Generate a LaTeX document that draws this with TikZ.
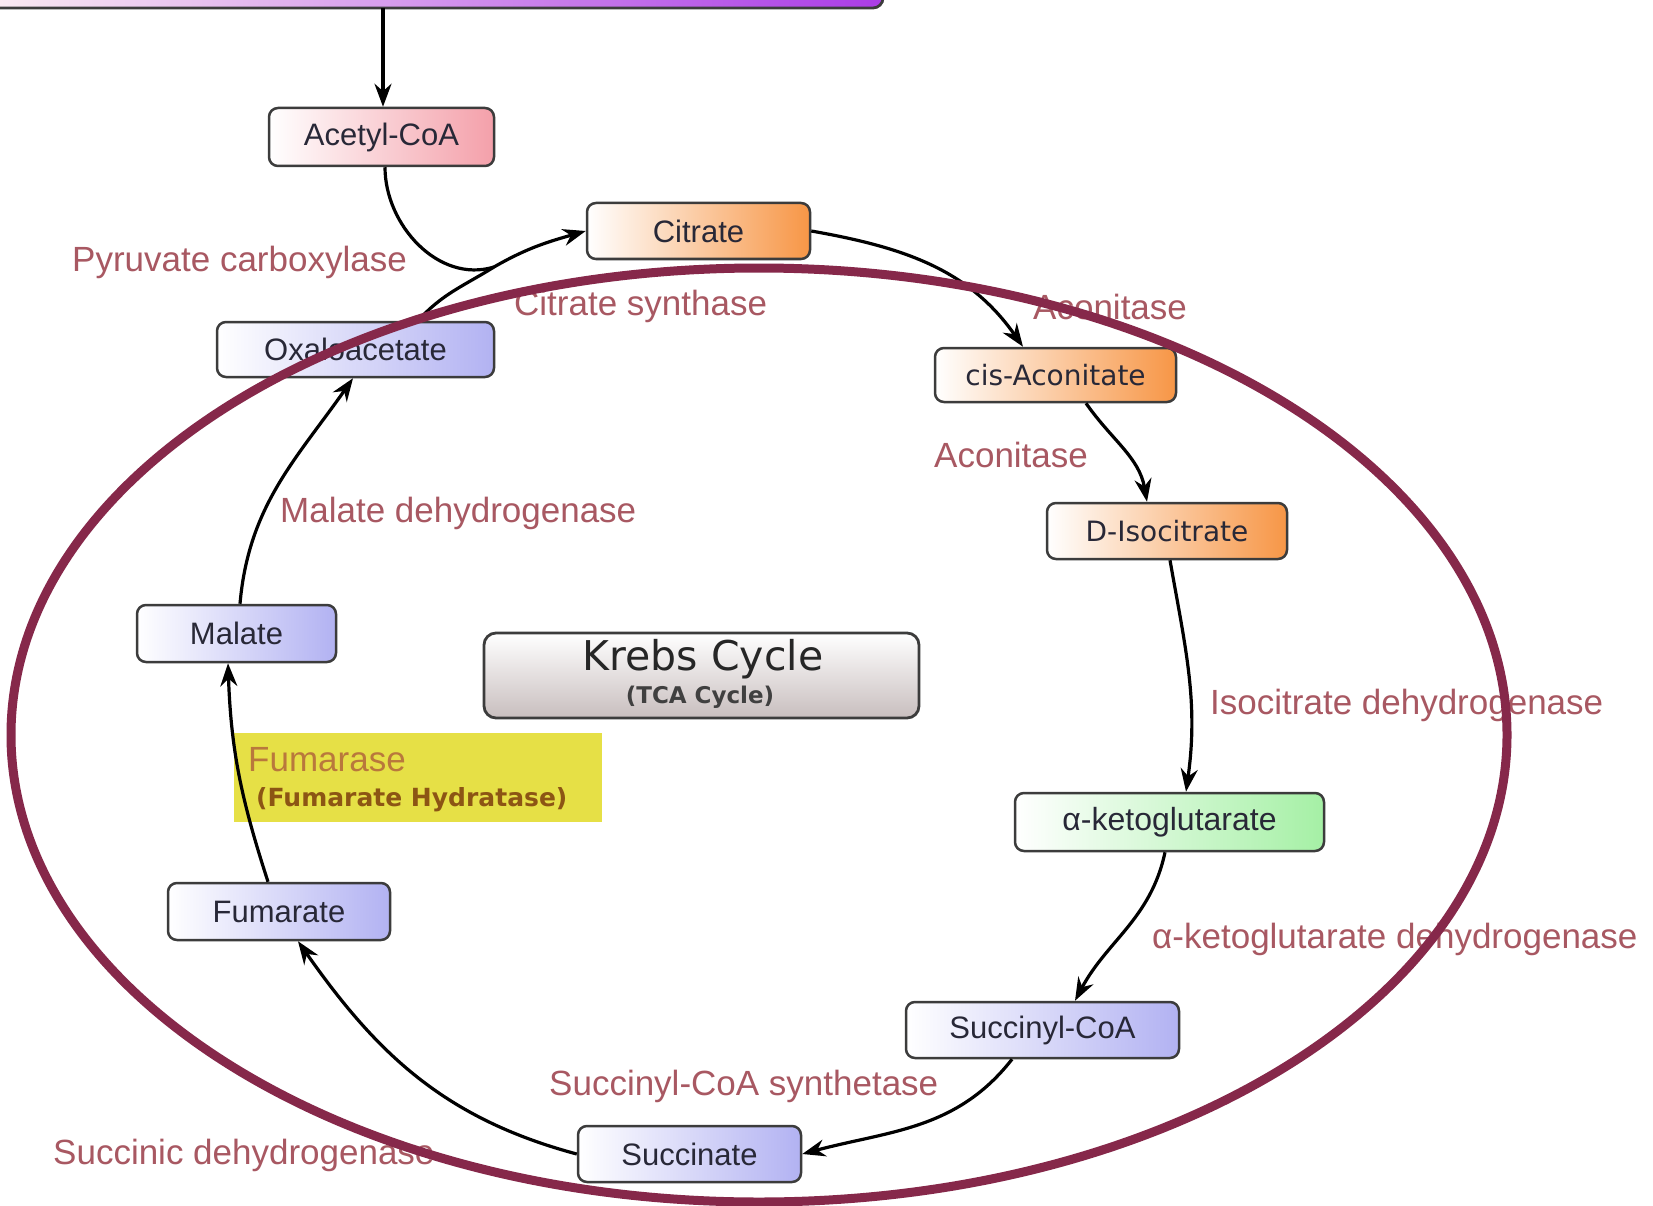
\documentclass[tikz,border=0pt]{standalone}
\usepackage{fontspec}
\setmainfont{Liberation Sans}
\newfontfamily\dv{DejaVu Sans}
\usetikzlibrary{arrows.meta}
\definecolor{enz}{RGB}{168,88,98}
\definecolor{ring}{RGB}{134,40,74}
\definecolor{nodeborder}{RGB}{60,60,60}
\definecolor{ntext}{RGB}{40,40,55}
\definecolor{pinkc}{RGB}{244,160,170}
\definecolor{orangec}{RGB}{247,150,70}
\definecolor{lavc}{RGB}{178,178,242}
\definecolor{greenc}{RGB}{165,240,165}
\definecolor{purplec}{RGB}{170,60,230}
\definecolor{graybox}{RGB}{200,190,190}
\definecolor{yellowc}{RGB}{230,224,70}
\definecolor{fumtext}{RGB}{185,120,60}
\definecolor{hydtext}{RGB}{140,85,20}
\begin{document}
\begin{tikzpicture}[x=1pt,y=-1pt,
  box/.style={draw=nodeborder, line width=2.5pt, rounded corners=9pt, left color=white,
    inner sep=0pt, text=ntext, font=\fontsize{31}{36}\selectfont},
  dvbox/.style={box, font=\dv\fontsize{28}{32}\selectfont},
  enzlabel/.style={anchor=base west, inner sep=0pt, text=enz, font=\fontsize{35}{40}\selectfont},
  conn/.style={line width=3.2pt, -{Stealth[length=23pt,width=17pt]}},
  plainconn/.style={line width=3.2pt}
]
\useasboundingbox (0,0) rectangle (1653,1206);
\fill[white] (0,0) rectangle (1653,1206);

% top purple box
\node[draw=nodeborder, line width=2.8pt, rounded corners=10pt, left color=white!85!pinkc, right color=purplec,
  minimum width=923pt, minimum height=88pt, inner sep=0pt] (topbox) at (421.5,-36) {};
\coordinate (pa) at (383,8);

% molecule boxes
\node[box, right color=pinkc, minimum width=225pt, minimum height=58pt] (acetyl) at (381.5,137) {Acetyl-CoA};
\node[box, right color=orangec, minimum width=223pt, minimum height=56pt] (citrate) at (698.5,231) {Citrate};
\node[box, right color=lavc, minimum width=277pt, minimum height=55pt] (oxalo) at (355.5,349.5) {Oxaloacetate};
\node[dvbox, right color=orangec, minimum width=241pt, minimum height=54pt] (cisacon) at (1055.5,375) {cis-Aconitate};
\node[dvbox, right color=orangec, minimum width=240pt, minimum height=56pt] (isocit) at (1167,531) {D-Isocitrate};
\node[box, right color=lavc, minimum width=199pt, minimum height=57pt] (malate) at (236.5,633.5) {Malate};
\node[box, right color=greenc, minimum width=309pt, minimum height=58pt, font=\fontsize{32}{36}\selectfont] (akg) at (1169.5,822) {α-ketoglutarate};
\node[box, right color=lavc, minimum width=222pt, minimum height=57pt] (fumarate) at (279,911.5) {Fumarate};
\node[box, right color=lavc, minimum width=273pt, minimum height=56pt] (succoa) at (1042.5,1030) {Succinyl-CoA};
\node[box, right color=lavc, minimum width=223pt, minimum height=56pt] (succinate) at (689.5,1154) {Succinate};

% Krebs cycle title box
\node[draw=nodeborder, line width=2.8pt, rounded corners=12pt, top color=white, bottom color=graybox,
  minimum width=435pt, minimum height=85pt, inner sep=0pt] (krebs) at (701.5,675.5) {};
\node[anchor=base, inner sep=0pt, font=\dv\fontsize{41}{44}\selectfont, text=black!85] (krebsT) at (703,670) {Krebs Cycle};
\node[anchor=base, inner sep=0pt, font=\dv\bfseries\fontsize{23}{26}\selectfont, text=black!75] (krebsS) at (700,703) {(TCA Cycle)};

% yellow fumarase box
\node[fill=yellowc, minimum width=368pt, minimum height=89pt, inner sep=0pt] (fumbox) at (418,777.5) {};
\node[anchor=base west, inner sep=0pt, text=fumtext, font=\fontsize{35}{40}\selectfont] (fumlabel) at (248,771) {Fumarase};
\node[anchor=base west, inner sep=0pt, text=hydtext, font=\dv\bfseries\fontsize{25}{28}\selectfont] (hydlabel) at (256,806) {(Fumarate Hydratase)};

% enzyme labels
\node[enzlabel] (pyrcarb) at (72,271) {Pyruvate carboxylase};
\node[enzlabel] (citsyn) at (514,315) {Citrate synthase};
\node[enzlabel] (acon1) at (1033,319) {Aconitase};
\node[enzlabel] (acon2) at (934,467) {Aconitase};
\node[enzlabel] (maldh) at (280,522) {Malate dehydrogenase};
\node[enzlabel] (isodh) at (1210,714) {Isocitrate dehydrogenase};
\node[enzlabel] (akgdh) at (1152,948) {α-ketoglutarate dehydrogenase};
\node[enzlabel] (scsyn) at (549,1095) {Succinyl-CoA synthetase};
\node[enzlabel] (sucdh) at (53,1164) {Succinic dehydrogenase};

% connectors
\coordinate (J) at (494,267);
\draw[conn] (pa) -- (pa |- acetyl.north);
\draw[plainconn] ([xshift=3.5pt]acetyl.south) to[out=-90,in=197] (J);
\draw[conn] ([xshift=62.5pt]oxalo.north) to[out=48,in=212] (J) to[out=30,in=196] (citrate.west);
\draw[conn] (citrate.east) to[out=-10,in=125] ([xshift=-32.5pt]cisacon.north);
\draw[conn] ([xshift=30.5pt]cisacon.south) to[out=-55,in=100] ([xshift=-20pt]isocit.north);
\draw[conn] ([xshift=3pt]isocit.south) to[out=-80,in=82] ([xshift=16.5pt]akg.north);
\draw[conn] ([xshift=-4.5pt]akg.south) to[out=-102,in=62] ([xshift=32.5pt]succoa.north);
\draw[conn] ([xshift=-30.5pt]succoa.south) to[out=-128,in=15] (succinate.east);
\draw[conn] (succinate.west) to[out=165,in=-55] ([xshift=19pt]fumarate.south);
\draw[conn] ([xshift=-11pt]fumarate.north) to[out=108,in=-88] ([xshift=-8.5pt]malate.south);
\draw[conn] ([xshift=3.5pt]malate.north) to[out=85,in=235] ([xshift=-2.5pt]oxalo.south);

% maroon ring on top
\draw[ring, line width=9pt] (759,735) ellipse [x radius=748pt, y radius=467pt];
\end{tikzpicture}
\end{document}
